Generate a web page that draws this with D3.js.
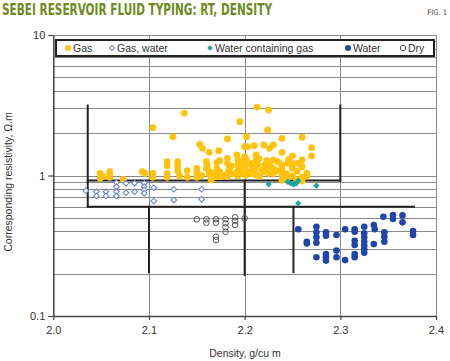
<!DOCTYPE html>
<html><head><meta charset="utf-8">
<script src="https://cdn.jsdelivr.net/npm/d3@7/dist/d3.min.js"></script>
<style>
html,body{margin:0;padding:0;background:#fff;}
svg{display:block;font-family:"Liberation Sans",Arial,sans-serif;}
</style></head>
<body><svg id="chart" width="450" height="361"></svg>
<script>
// ---- data (density g/cu m, resistivity ohm.m) ----
const titleText = "SEBEI RESERVOIR FLUID TYPING: RT, DENSITY";
const figLabel = "FIG. 1";
const xLabel = "Density, g/cu m";
const yLabel = "Corresponding resistivity, \u03A9.m";
const xTicks = [2.0, 2.1, 2.2, 2.3, 2.4];
const xTickLabels = ["2.0", "2.1", "2.2", "2.3", "2.4"];
const yTicks = [0.1, 1, 10];
const yTickLabels = ["0.1", "1", "10"];
const yGrid = [0.2,0.3,0.4,0.5,0.6,0.7,0.8,0.9,1,2,3,4,5,6,7,8,9,10];
const seriesNames = ["Gas", "Gas, water", "Water containing gas", "Water", "Dry"];

const gasDensity = [2.049,2.049,2.052,2.059,2.059,2.059,2.073,2.093,2.096,2.104,2.104,2.104,
  2.119,2.119,2.119,2.119,2.125,2.130,2.130,2.130,2.132,2.137,2.140,2.140,2.150,2.150,2.150,
  2.153,2.156,2.160,2.161,2.160,2.163,2.163,2.165,2.165,2.163,2.171,2.174,2.171,2.174,2.171,2.175,
  2.173,2.182,2.182,2.182,2.184,2.183,2.182,2.192,2.193,2.193,2.194,2.192,2.193,2.195,
  2.200,2.202,2.200,2.205,2.203,2.201,2.202,2.200,2.203,2.210,2.213,2.212,2.212,2.214,2.210,2.211,2.209,2.212,
  2.220,2.223,2.221,2.224,2.221,2.225,2.225,2.224,2.230,2.226,2.230,2.230,2.230,
  2.239,2.239,2.239,2.239,2.239,2.239,2.239,2.250,2.250,2.250,2.250,2.250,
  2.260,2.260,2.260,2.260,2.260,2.270,2.270,
  2.155,2.168,2.178,2.188,2.197,2.207,2.216,2.218,2.186,2.196,2.208,2.215,2.226,2.234,2.235,2.245,2.244,2.246,2.255,2.256,2.265,2.265,2.244,2.254];
const gasRes = [1.037,0.955,0.981,1.064,0.971,1.008,0.940,1.064,1.037,1.037,0.971,2.189,
  1.254,1.174,1.037,0.971,1.888,1.254,1.174,1.082,0.992,2.780,1.082,0.971,1.125,1.047,0.971,
  1.667,1.562,1.254,1.174,1.125,1.064,1.025,0.971,0.929,1.463,1.233,1.274,1.125,1.064,0.981,0.981,
  1.501,1.820,1.326,1.221,1.125,1.064,0.981,1.399,1.289,1.201,1.125,1.064,0.992,2.415,
  1.361,1.289,1.155,1.221,1.064,1.008,1.888,1.603,1.603,1.630,3.070,1.399,1.289,1.201,1.221,1.112,1.064,1.008,
  1.648,1.274,1.188,1.155,1.064,1.037,2.926,2.108,1.648,1.562,1.289,1.125,1.037,
  1.840,1.463,1.188,1.112,1.047,1.008,0.929,1.377,1.188,1.125,0.992,1.221,
  1.871,1.289,1.155,0.971,0.914,1.577,1.377,
  1.000,1.040,1.000,1.030,1.040,1.030,0.990,1.090,1.170,1.250,1.170,1.320,1.200,1.080,1.250,1.220,1.030,1.300,1.070,1.220,1.040,0.990,0.930,0.935];

const gasWaterDensity = [2.034,2.045,2.045,2.055,2.055,2.066,2.066,2.066,2.066,2.076,2.076,2.085,2.085,
  2.095,2.095,2.095,2.095,2.105,2.105,2.126,2.126,2.155,2.155];
const gasWaterRes = [0.780,0.767,0.715,0.767,0.715,0.889,0.832,0.767,0.715,0.880,0.754,0.880,0.767,
  0.880,0.832,0.789,0.747,0.819,0.658,0.798,0.669,0.798,0.677];

const wcgDensity = [2.225,2.245,2.248,2.251,2.254,2.256,2.252,2.275,2.256];
const wcgRes = [0.866,0.903,0.880,0.866,0.880,0.918,0.872,0.846,0.634];

const waterDensity = [2.256,2.265,2.265,2.275,2.275,2.275,2.275,2.275,2.285,2.285,2.285,2.285,2.285,
  2.296,2.296,2.296,2.305,2.305,2.315,2.315,2.315,2.315,2.315,2.315,
  2.325,2.325,2.325,2.325,2.325,2.325,2.325,2.335,2.336,2.335,2.345,2.346,2.346,2.346,
  2.355,2.355,2.365,2.365,2.376,2.376];
const waterRes = [0.414,0.338,0.328,0.432,0.394,0.363,0.332,0.262,0.394,0.373,0.276,0.262,0.248,
  0.377,0.292,0.262,0.414,0.250,0.414,0.398,0.343,0.320,0.276,0.262,
  0.432,0.388,0.363,0.338,0.316,0.298,0.282,0.444,0.414,0.325,0.509,0.394,0.367,0.338,
  0.523,0.490,0.520,0.464,0.403,0.377];

const dryDensity = [2.150,2.160,2.160,2.170,2.170,2.170,2.170,2.180,2.180,2.180,2.180,2.190,2.190,2.190,2.200];
const dryRes = [0.488,0.488,0.461,0.488,0.461,0.367,0.347,0.488,0.457,0.428,0.398,0.504,0.477,0.444,0.496];

// zone boundary segments [d1, r1, d2, r2]
const zoneLines = [
  [2.036, 3.15, 2.036, 0.60],
  [2.036, 0.92, 2.300, 0.92],
  [2.300, 3.15, 2.300, 0.92],
  [2.036, 0.60, 2.377, 0.60],
  [2.100, 0.60, 2.100, 0.205],
  [2.200, 0.92, 2.200, 0.196],
  [2.251, 0.60, 2.251, 0.205]
];

// ---- drawing ----
const svg = d3.select("#chart");
const L = 53.3, R = 436, T = 35, B = 316;
const x = d3.scaleLinear().domain([2.0, 2.4]).range([L, R]);
const y = d3.scaleLog().domain([0.1, 10]).range([B, T]);
const ink = "#333";

// title
svg.append("text").attr("x", 2).attr("y", 15)
  .attr("font-family", "'Liberation Sans Narrow','DejaVu Sans Condensed',sans-serif")
  .attr("font-weight", "bold").attr("font-size", 16).attr("fill", "#6f8a22")
  .attr("textLength", 270).attr("lengthAdjust", "spacingAndGlyphs").text(titleText);
svg.append("text").attr("x", 447).attr("y", 15).attr("text-anchor", "end")
  .attr("font-family", "'Liberation Sans Narrow','DejaVu Sans Condensed',sans-serif")
  .attr("font-size", 7.5).attr("fill", "#444").text(figLabel);

// gridlines
const grid = svg.append("g").attr("stroke", "#8a8a8a").attr("stroke-width", 1);
grid.selectAll("line.h").data(yGrid).join("line")
  .attr("x1", L).attr("x2", R).attr("y1", d => Math.round(y(d)) + 0.5).attr("y2", d => Math.round(y(d)) + 0.5);
grid.selectAll("line.v").data(xTicks.slice(1)).join("line")
  .attr("x1", d => Math.round(x(d)) + 0.5).attr("x2", d => Math.round(x(d)) + 0.5).attr("y1", T).attr("y2", B);

// axes
const xAxis = svg.append("g").attr("transform", `translate(0,${B})`)
  .call(d3.axisBottom(x).tickValues(xTicks).tickFormat((d, i) => xTickLabels[i]).tickSize(4).tickSizeOuter(0).tickPadding(6));
const yAxis = svg.append("g").attr("transform", `translate(${L},0)`)
  .call(d3.axisLeft(y).tickValues(yTicks).tickFormat((d, i) => yTickLabels[i]).tickSize(5).tickSizeOuter(0).tickPadding(3));
[xAxis, yAxis].forEach(a => {
  a.select(".domain").attr("stroke", "#444").attr("stroke-width", 1.5);
  a.selectAll(".tick line").attr("stroke", "#444").attr("stroke-width", 1.2);
  a.selectAll(".tick text").attr("fill", ink).attr("font-size", 11)
    .attr("font-family", "'Liberation Sans',Arial,sans-serif");
});

// axis titles
svg.append("text").attr("x", 245).attr("y", 357).attr("text-anchor", "middle")
  .attr("font-size", 10.5).attr("fill", ink).text(xLabel);
svg.append("text").attr("transform", "translate(12,182) rotate(-90)").attr("text-anchor", "middle")
  .attr("font-size", 10.5).attr("fill", ink).text(yLabel);

// zone lines
svg.append("g").selectAll("line").data(zoneLines).join("line")
  .attr("x1", d => x(d[0])).attr("y1", d => y(d[1])).attr("x2", d => x(d[2])).attr("y2", d => y(d[3]))
  .attr("stroke", "#222").attr("stroke-width", 2).attr("stroke-linecap", "square");

// series
const colGas = "#ffc20e", colGW = "#6f86d6", colWCG = "#1fa69a", colWater = "#2145a8", colDry = "#555";
const pts = (xs, ys) => xs.map((d, i) => [d, ys[i]]);
const diamond = d3.symbol().type(d3.symbolSquare).size(16);

svg.append("g").selectAll("circle").data(pts(gasDensity, gasRes)).join("circle")
  .attr("cx", d => x(d[0])).attr("cy", d => y(d[1])).attr("r", 3.4).attr("fill", colGas);
svg.append("g").selectAll("path").data(pts(gasWaterDensity, gasWaterRes)).join("path")
  .attr("d", diamond).attr("transform", d => `translate(${x(d[0])},${y(d[1])}) rotate(45)`)
  .attr("fill", "#fff").attr("stroke", colGW).attr("stroke-width", 1.1);
svg.append("g").selectAll("path").data(pts(wcgDensity, wcgRes)).join("path")
  .attr("d", d3.symbol().type(d3.symbolSquare).size(20)).attr("transform", d => `translate(${x(d[0])},${y(d[1])}) rotate(45)`)
  .attr("fill", colWCG);
svg.append("g").selectAll("circle").data(pts(waterDensity, waterRes)).join("circle")
  .attr("cx", d => x(d[0])).attr("cy", d => y(d[1])).attr("r", 3.3).attr("fill", colWater);
svg.append("g").selectAll("circle").data(pts(dryDensity, dryRes)).join("circle")
  .attr("cx", d => x(d[0])).attr("cy", d => y(d[1])).attr("r", 2.8)
  .attr("fill", "none").attr("stroke", colDry).attr("stroke-width", 1);

// legend
const lg = svg.append("g");
lg.append("rect").attr("x", 56).attr("y", 40).attr("width", 378).attr("height", 16)
  .attr("fill", "#fff").attr("stroke", "#222").attr("stroke-width", 2);
const legendX = [68, 112, 210, 348, 403];
const ly = 48;
seriesNames.forEach((name, i) => {
  const cx = legendX[i];
  if (i === 0) lg.append("circle").attr("cx", cx).attr("cy", ly).attr("r", 3).attr("fill", colGas);
  if (i === 1) lg.append("path").attr("d", d3.symbol().type(d3.symbolSquare).size(13)).attr("transform", `translate(${cx},${ly}) rotate(45)`).attr("fill", "#fff").attr("stroke", colGW);
  if (i === 2) lg.append("path").attr("d", d3.symbol().type(d3.symbolSquare).size(16)).attr("transform", `translate(${cx},${ly}) rotate(45)`).attr("fill", colWCG);
  if (i === 3) lg.append("circle").attr("cx", cx).attr("cy", ly).attr("r", 3).attr("fill", colWater);
  if (i === 4) lg.append("circle").attr("cx", cx).attr("cy", ly).attr("r", 2.7).attr("fill", "none").attr("stroke", colDry);
  lg.append("text").attr("x", cx + 5).attr("y", ly + 4).attr("font-size", 10.5).attr("fill", ink).text(name);
});
</script></body></html>
